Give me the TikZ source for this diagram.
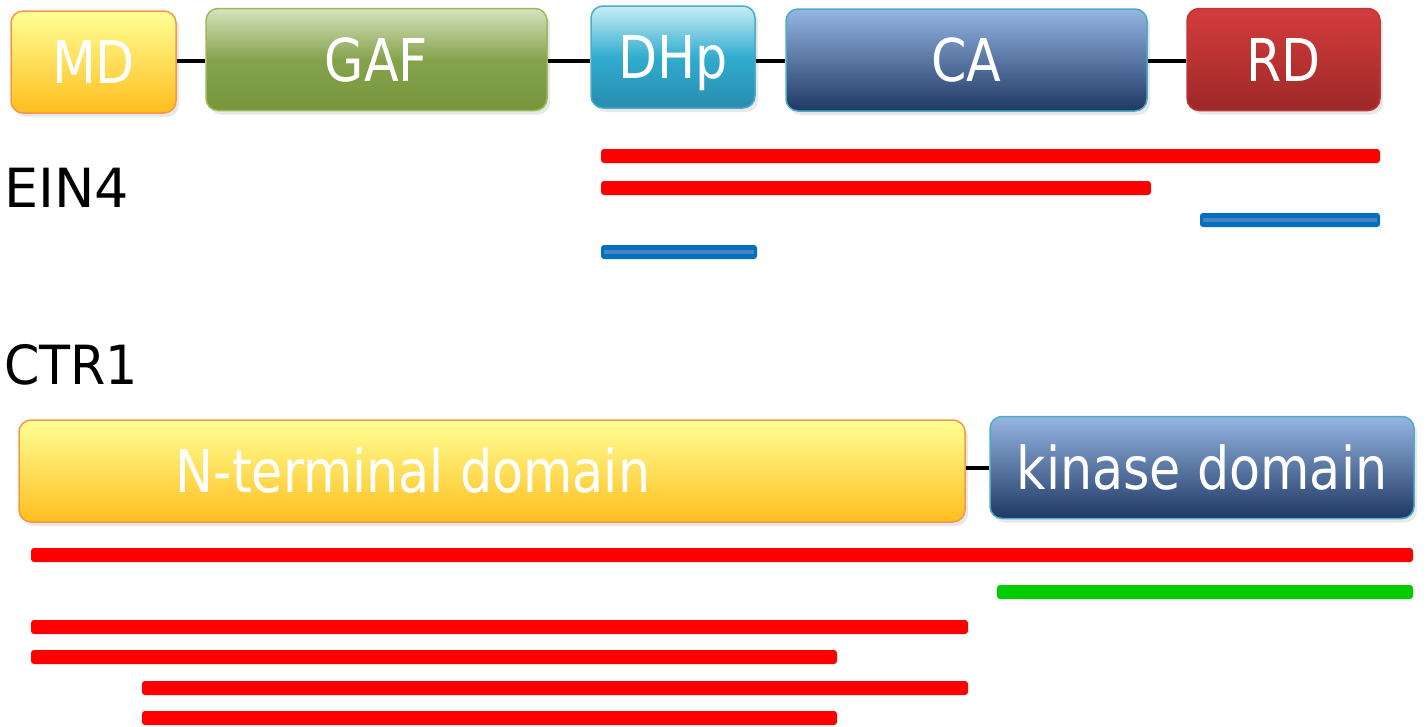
\documentclass[tikz,border=0pt]{standalone}
\usepackage{fontspec}
\setmainfont{DejaVu Sans}
\usepackage{graphicx}
\usetikzlibrary{shadows}

\definecolor{mdtop}{RGB}{255,255,150}
\definecolor{mdbot}{RGB}{255,190,30}
\definecolor{mdline}{RGB}{247,150,70}
\definecolor{gaftop}{RGB}{215,228,189}
\definecolor{gafbot}{RGB}{119,150,58}
\definecolor{gafline}{RGB}{155,187,89}
\definecolor{dhptop}{RGB}{200,238,248}
\definecolor{dhpmid}{RGB}{49,172,206}
\definecolor{dhpbot}{RGB}{40,140,175}
\definecolor{caline}{RGB}{75,172,198}
\definecolor{catop}{RGB}{149,181,226}
\definecolor{cabot}{RGB}{31,56,100}
\definecolor{rdtop}{RGB}{212,60,60}
\definecolor{rdbot}{RGB}{158,40,40}
\definecolor{barred}{RGB}{255,0,0}
\definecolor{bargreen}{RGB}{0,204,0}
\definecolor{barblue}{RGB}{0,112,192}
\definecolor{barlight}{RGB}{79,129,189}

\newcommand{\domtext}[1]{\scalebox{0.86}[1]{#1}}

\tikzset{
  dom/.style={rounded corners=12pt, draw, line width=1.5pt, text=white,
    font=\fontsize{59}{60}\selectfont, text height=43pt, text depth=0pt,
    inner sep=0pt, minimum height=102pt,
    drop shadow={shadow xshift=3pt, shadow yshift=-4pt, opacity=0.18}},
  yellowdom/.style={dom, draw=mdline, top color=mdtop, bottom color=mdbot},
  greendom/.style={dom, draw=gafline, top color=gaftop, bottom color=gafbot, middle color=gafbot!85!gaftop},
  cyandom/.style={dom, draw=caline, top color=dhptop, bottom color=dhpbot, middle color=dhpmid},
  bluedom/.style={dom, draw=caline, top color=catop, bottom color=cabot},
  reddom/.style={dom, draw=rdtop!90!black, top color=rdtop, bottom color=rdbot},
  link/.style={line width=4.5pt, black},
  protein/.style={font=\fontsize{54}{56}\selectfont, inner sep=0pt}
}

\begin{document}
\begin{tikzpicture}[x=1pt, y=-1pt]
\useasboundingbox (0,0) rectangle (1427,726);

% EIN4 domains
\node[yellowdom, minimum width=165pt] (md) at (93.5,62) {\domtext{MD}};
\node[greendom, minimum width=341pt] (gaf) at (376.5,59.5) {\domtext{GAF}};
\node[cyandom, minimum width=164pt] (dhp) at (673,57) {\domtext{DHp}};
\node[bluedom, minimum width=361pt] (ca) at (966.5,60) {\domtext{CA}};
\node[reddom, minimum width=193pt] (rd) at (1283.5,59.5) {\domtext{RD}};
\draw[link] (md.east |- 0,61) -- (gaf.west |- 0,61);
\draw[link] (gaf.east |- 0,61) -- (dhp.west |- 0,61);
\draw[link] (dhp.east |- 0,61) -- (ca.west |- 0,61);
\draw[link] (ca.east |- 0,61) -- (rd.west |- 0,61);

\node[protein, anchor=base west] (ein4) at (4,207) {EIN4};

\foreach \xa/\xb/\yy in {601/1380/156, 601/1151/188}
{
  \fill[barred, rounded corners=3pt] (\xa,\yy-7) rectangle (\xb,\yy+7);
}
\foreach \xa/\xb/\yy in {1200/1380/220, 601/757/252}
{
  \fill[barblue, rounded corners=3pt] (\xa,\yy-7) rectangle (\xb,\yy+7);
  \fill[barlight] (\xa+3,\yy-2) rectangle (\xb-3,\yy+2);
}

% CTR1 domains
\node[protein, anchor=base west] (ctr1) at (4,384) {\scalebox{0.94}[1]{CTR1}};

\node[yellowdom, minimum width=946pt] (nterm) at (492,471) {\domtext{N-terminal domain}\hspace*{158pt}};
\node[bluedom, minimum width=424pt] (kinase) at (1202,467.5) {\domtext{kinase domain}};
\draw[link] (nterm.east |- 0,468) -- (kinase.west |- 0,468);

\foreach \xa/\xb/\yy in {31/1413/555, 31/968/627, 31/837/657, 142/968/688, 142/837/718}
{
  \fill[barred, rounded corners=3pt] (\xa,\yy-7) rectangle (\xb,\yy+7);
}
\fill[bargreen, rounded corners=3pt] (997,585) rectangle (1413,599);
\end{tikzpicture}
\end{document}
